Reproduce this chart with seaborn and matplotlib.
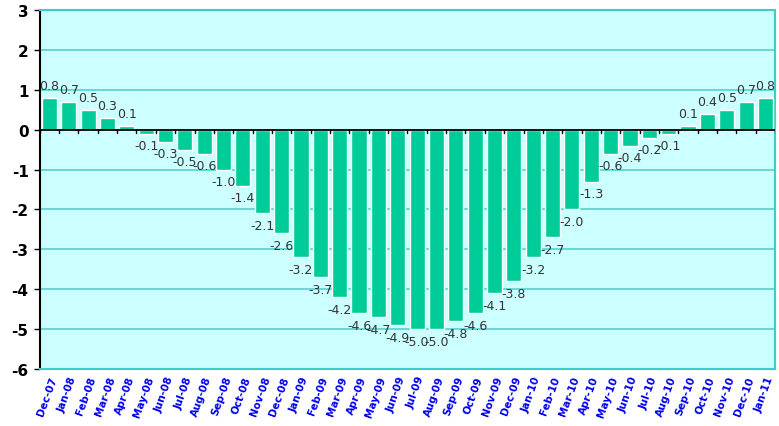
import matplotlib
matplotlib.use("Agg")
import matplotlib.pyplot as plt
import seaborn as sns
import pandas as pd

months = ["Dec-07", "Jan-08", "Feb-08", "Mar-08", "Apr-08", "May-08", "Jun-08", "Jul-08",
          "Aug-08", "Sep-08", "Oct-08", "Nov-08", "Dec-08", "Jan-09", "Feb-09", "Mar-09",
          "Apr-09", "May-09", "Jun-09", "Jul-09", "Aug-09", "Sep-09", "Oct-09", "Nov-09",
          "Dec-09", "Jan-10", "Feb-10", "Mar-10", "Apr-10", "May-10", "Jun-10", "Jul-10",
          "Aug-10", "Sep-10", "Oct-10", "Nov-10", "Dec-10", "Jan-11"]
values = [0.8, 0.7, 0.5, 0.3, 0.1, -0.1, -0.3, -0.5, -0.6, -1.0, -1.4, -2.1, -2.6, -3.2,
          -3.7, -4.2, -4.6, -4.7, -4.9, -5.0, -5.0, -4.8, -4.6, -4.1, -3.8, -3.2, -2.7,
          -2.0, -1.3, -0.6, -0.4, -0.2, -0.1, 0.1, 0.4, 0.5, 0.7, 0.8]
yticks = [-6, -5, -4, -3, -2, -1, 0, 1, 2, 3]

df = pd.DataFrame({"month": months, "value": values})

sns.set_theme(style="white")
plt.rcParams["font.family"] = ["DejaVu Sans"]

fig = plt.figure(figsize=(7.79, 4.27), dpi=100)
ax = fig.add_axes([0.051, 0.1335, 0.944, 0.8405])
ax.set_facecolor("#ccffff")

sns.barplot(data=df, x="month", y="value", color="#00cc99", saturation=1,
            width=0.78, ax=ax, zorder=3)

for c in ax.containers:
    ax.bar_label(c, labels=[f"{v:.1f}" for v in values], padding=4,
                 fontsize=9, color="#333333", zorder=4)

ax.set_ylim(-6, 3)
ax.set_xlim(-0.5, len(months) - 0.5)
ax.set_yticks(yticks)
ax.set_yticklabels([str(t) for t in yticks], fontsize=11, fontweight="bold", color="black")
for y in yticks:
    if y != 0:
        ax.axhline(y, color="#55d2d2", lw=1.2, zorder=1)
ax.axhline(0, color="black", lw=1.3, zorder=5)

ax.set_xticks(range(len(months)))
ax.set_xticklabels(months, rotation=70, ha="right", va="top", rotation_mode="anchor",
                   fontsize=7.5, fontweight="bold", color="#0000ee")
ax.tick_params(axis="x", length=0, pad=4)
ax.tick_params(axis="y", length=4, width=1, color="black", left=True, pad=4)

for i in range(len(months) + 1):
    ax.plot([i - 0.5, i - 0.5], [0, -0.09], color="black", lw=1, zorder=5)

ax.set_xlabel("")
ax.set_ylabel("")
for s in ["top", "right", "bottom"]:
    ax.spines[s].set_color("#40cccc")
    ax.spines[s].set_linewidth(1.5)
ax.spines["left"].set_color("black")
ax.spines["left"].set_linewidth(1.5)

fig.savefig("out.png", dpi=100)
